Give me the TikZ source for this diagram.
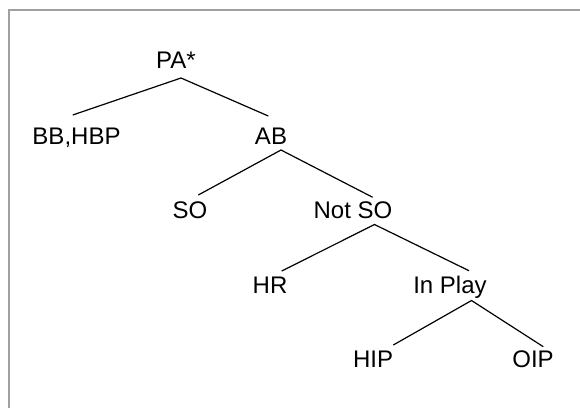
\documentclass[tikz,border=0pt]{standalone}
\usepackage{fontspec}
\setmainfont{Liberation Sans}
\definecolor{framegray}{RGB}{160,160,160}
\begin{document}
\begin{tikzpicture}[x=1pt,y=-1pt,
  lbl/.style={anchor=base,inner sep=0pt,font=\fontsize{24}{28}\selectfont},
  edge/.style={line width=1.2pt,black},
  frame/.style={line width=2pt,framegray}]
\useasboundingbox (0,0) rectangle (580,408);
\draw[frame] (9,408) -- (9,10) -- (580,10);
% labels
\node[lbl] (PA) at (176,68) {PA*};
\node[lbl] (BB) at (76.5,144) {BB,HBP};
\node[lbl] (AB) at (271,144) {AB};
\node[lbl] (SO) at (190,218) {SO};
\node[lbl] (NSO) at (353,218) {Not SO};
\node[lbl] (HR) at (270,293) {HR};
\node[lbl] (IP) at (450,293) {In Play};
\node[lbl] (HIP) at (373,367) {HIP};
\node[lbl] (OIP) at (533,367) {OIP};
% attachment points
\coordinate (PAb) at (181,78);
\coordinate (BBt) at (72.7,115);
\coordinate (ABt) at (268.3,116);
\coordinate (ABb) at (281,150);
\coordinate (SOt) at (198.3,195);
\coordinate (NSOt) at (372.7,197.3);
\coordinate (NSOb) at (374.5,224.5);
\coordinate (HRt) at (281.7,271);
\coordinate (IPt) at (469,270.7);
\coordinate (IPb) at (471.5,300.5);
\coordinate (HIPt) at (393.3,345);
\coordinate (OIPt) at (543.3,346.7);
% connectors
\draw[edge] (BBt) -- (PAb) -- (ABt);
\draw[edge] (SOt) -- (ABb) -- (NSOt);
\draw[edge] (HRt) -- (NSOb) -- (IPt);
\draw[edge] (HIPt) -- (IPb) -- (OIPt);
\end{tikzpicture}
\end{document}
